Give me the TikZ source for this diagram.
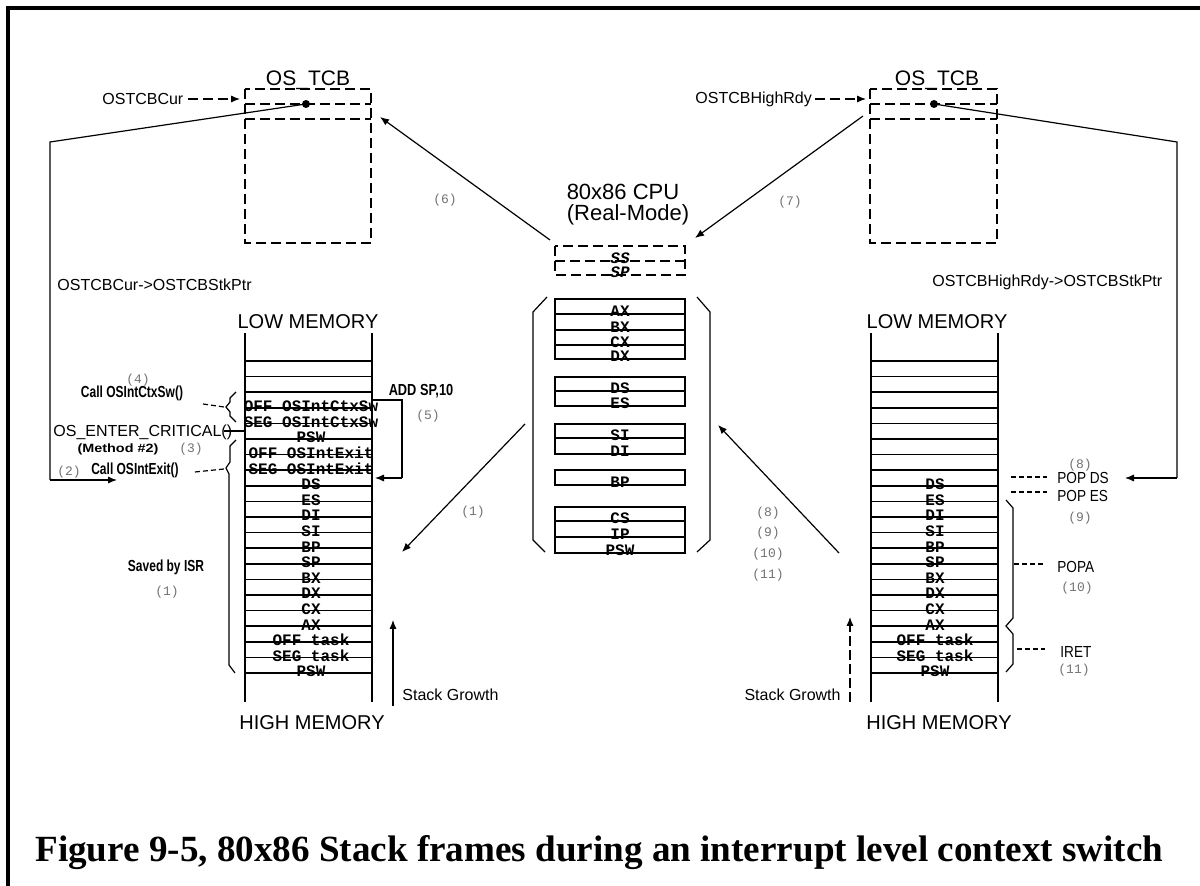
\documentclass[tikz,border=0pt]{standalone}
\usepackage{fontspec}
\setmainfont{Liberation Sans}
\newfontfamily\monofont{Liberation Mono}
\newfontfamily\capfont{Liberation Serif}
\usetikzlibrary{arrows.meta}
\tikzset{
  lbl/.style={inner sep=0pt, font=\fontsize{8}{9}\selectfont},
  big/.style={inner sep=0pt, font=\fontsize{10}{12}\selectfont},
  ttl/.style={inner sep=0pt, font=\fontsize{10.5}{12}\selectfont},
  cpu/.style={inner sep=0pt, font=\fontsize{11}{13}\selectfont},
  num/.style={inner sep=0pt, text=black!55, font=\monofont\fontsize{6.5}{7}\selectfont},
  cell/.style={inner sep=0pt, font=\monofont\bfseries\fontsize{8}{8}\selectfont},
  nar/.style={inner sep=0pt, font=\bfseries\fontsize{8}{9}\selectfont},
  tcb/.style={line width=0.6pt, dash pattern=on 5pt off 2.5pt},
  stk/.style={line width=0.75pt},
  thk/.style={line width=1.3pt},
  arr/.style={-{Latex[length=4.5pt,width=3.6pt]}, line width=0.6pt},
  tick/.style={line width=0.6pt, dash pattern=on 2.5pt off 1.5pt},
  brc/.style={line width=0.6pt},
}
\begin{document}
\begin{tikzpicture}[x=0.5pt,y=-0.5pt]
\useasboundingbox (0,0) rectangle (1200,886);
\fill[white] (0,0) rectangle (1200,886);
\draw[line width=2pt] (8,900) -- (8,8) -- (1210,8);

% ---------- left TCB ----------
\draw[tcb] (245,89) rectangle (371,243);
\draw[tcb] (245,104) -- (371,104);
\draw[tcb] (245,119) -- (371,119);
\node[ttl, anchor=base] (ltcb) at (308,86) {OS\_TCB};
\node[lbl, anchor=west] (cur) at (102,99) {OSTCBCur};
\coordinate (curE) at (240,99);
\draw[arr, tcb] (cur.east) ++(4,0) -- (curE);
\fill (306,104) circle (2pt);
\coordinate (ldot) at (306,104);
\coordinate (lc1) at (50,142);
\coordinate (lc2) at (50,480);
\coordinate (lc3) at (117,480);
\draw[line width=0.6pt] (ldot) -- (lc1) -- (lc2);
\draw[arr] (lc2) -- (lc3);
\node[lbl, anchor=west] (curstk) at (57,285) {OSTCBCur->OSTCBStkPtr};

% ---------- right TCB ----------
\draw[tcb] (870,89) rectangle (997,243);
\draw[tcb] (870,104) -- (997,104);
\draw[tcb] (870,119) -- (997,119);
\node[ttl, anchor=base] (rtcb) at (937,86) {OS\_TCB};
\node[lbl, anchor=west] (hr) at (695,99) {OSTCBHighRdy};
\coordinate (hrE) at (866,99);
\draw[arr, tcb] (hr.east) ++(3,0) -- (hrE);
\fill (934,104) circle (2pt);
\coordinate (rdot) at (934,104);
\coordinate (rc1) at (1177,142);
\coordinate (rc2) at (1177,478);
\coordinate (rc3) at (1125,478);
\draw[line width=0.6pt] (rdot) -- (rc1) -- (rc2);
\draw[arr] (rc2) -- (rc3);
\node[lbl, anchor=west] (hrstk) at (932,282) {OSTCBHighRdy->OSTCBStkPtr};

% ---------- CPU ----------
\node[cpu] (cputitle) at (623,192) {80x86 CPU};
\node[cpu] (cpumode) at (628,215) {(Real-Mode)};
\draw[tcb] (555,246) rectangle (685,275);
\draw[tcb] (555,261) -- (685,261);
\node[cell, anchor=base, font=\monofont\bfseries\itshape\fontsize{8}{8}\selectfont] (ss) at (620,264) {SS};
\node[cell, anchor=base, font=\monofont\bfseries\itshape\fontsize{8}{8}\selectfont] (sp) at (620,278) {SP};

\draw[stk] (555,299) rectangle (685,359);
\draw[thk] (555,314) -- (685,314); \draw[thk] (555,330) -- (685,330); \draw[thk] (555,345) -- (685,345);
\draw[stk] (555,377) rectangle (685,406);
\draw[thk] (555,391) -- (685,391);
\draw[stk] (555,424) rectangle (685,454);
\draw[thk] (555,438) -- (685,438);
\draw[stk] (555,470) rectangle (685,485);
\draw[stk] (555,507) rectangle (685,553);
\draw[thk] (555,521) -- (685,521); \draw[thk] (555,537) -- (685,537);
\foreach \b/\t in {314/AX,330/BX,345/CX,359/DX,391/DS,406/ES,438/SI,454/DI,485/BP,521/CS,537/IP,553/PSW}
  \node[cell, anchor=base] at (620,{\b+3}) {\t};
\draw[brc] (547,297) -- (533,312) -- (533,540) -- (545,552);
\draw[brc] (697,297) -- (710,312) -- (710,540) -- (697,552);

% ---------- left stack ----------
\foreach \k in {0,...,20} \draw[stk] (245,{361+15.6*\k}) -- (372,{361+15.6*\k});
\draw[stk] (245,333) -- (245,702);
\draw[stk] (372,333) -- (372,702);
\foreach \k/\t in {2/OFF OSIntCtxSw,3/SEG OSIntCtxSw,4/PSW,5/OFF OSIntExit,6/SEG OSIntExit,7/DS,8/ES,9/DI,10/SI,11/BP,12/SP,13/BX,14/DX,15/CX,16/AX,17/OFF task,18/SEG task,19/PSW}
  \node[cell, anchor=base] at (311,{361+15.6*(\k+1)+4}) {\t};
\node[big] (llow) at (308,322) {LOW MEMORY};
\node[big] (lhigh) at (312,723) {HIGH MEMORY};

% ---------- right stack ----------
\foreach \k in {0,...,20} \draw[stk] (871,{361+15.6*\k}) -- (998,{361+15.6*\k});
\draw[stk] (871,333) -- (871,702);
\draw[stk] (998,333) -- (998,702);
\foreach \k/\t in {7/DS,8/ES,9/DI,10/SI,11/BP,12/SP,13/BX,14/DX,15/CX,16/AX,17/OFF task,18/SEG task,19/PSW}
  \node[cell, anchor=base] at (935,{361+15.6*(\k+1)+4}) {\t};
\node[big] (rlow) at (937,322) {LOW MEMORY};
\node[big] (rhigh) at (939,723) {HIGH MEMORY};

% ---------- diagonal arrows ----------
\coordinate (a6s) at (550,240); \coordinate (a6e) at (380,117);
\draw[arr] (a6s) -- (a6e);
\node[num] (n6) at (445,200) {(6)};
\coordinate (a7s) at (863,116); \coordinate (a7e) at (695,238);
\draw[arr] (a7s) -- (a7e);
\node[num] (n7) at (790,202) {(7)};
\coordinate (a1s) at (525,424); \coordinate (a1e) at (402,552);
\draw[arr] (a1s) -- (a1e);
\node[num] (n1) at (473,512) {(1)};
\coordinate (a8s) at (839,553); \coordinate (a8e) at (718,425);
\draw[arr] (a8s) -- (a8e);
\node[num] (n8a) at (768,513) {(8)};
\node[num] (n9a) at (768,533) {(9)};
\node[num] (n10a) at (768,554) {(10)};
\node[num] (n11a) at (768,575) {(11)};

% ---------- stack growth ----------
\coordinate (lg1) at (393,706); \coordinate (lg2) at (393,620);
\draw[arr] (lg1) -- (lg2);
\node[lbl, anchor=west] (lsg) at (402,695) {Stack Growth};
\coordinate (rg1) at (850,702); \coordinate (rg2) at (850,617);
\draw[arr, dash pattern=on 5pt off 2pt] (rg1) -- (rg2);
\node[lbl, anchor=east] (rsg) at (841,695) {Stack Growth};

% ---------- left annotations ----------
\node[num] (n4) at (138,380) {(4)};
\node[nar] (ctx) at (132,393) {\scalebox{0.75}[1]{Call OSIntCtxSw()}};
\draw[brc] (236,392) -- (230,398) -- (230,402) -- (226,407) -- (230,412) -- (230,416) -- (236,422);
\coordinate (t4a) at (203,404); \coordinate (t4b) at (224,407);
\draw[tick] (t4a) -- (t4b);
\node[lbl, anchor=west] (crit) at (53,432) {OS\_ENTER\_CRITICAL()};
\coordinate (c1) at (224,431); \coordinate (c2) at (245,431);
\draw[line width=0.6pt] (c1) -- (c2);
\node[nar, font=\bfseries\fontsize{6}{7}\selectfont] (meth) at (118,449) {\scalebox{1.2}[1]{(Method \#2)}};
\node[num] (n3) at (191,449) {(3)};
\node[num] (n2) at (69,472) {(2)};
\node[nar] (cexit) at (135,470) {\scalebox{0.75}[1]{Call OSIntExit()}};
\draw[brc] (236,440) -- (230,446) -- (230,462) -- (226,468) -- (229,474) -- (229,665) -- (235,673);
\coordinate (t2a) at (195,472); \coordinate (t2b) at (224,469);
\draw[tick] (t2a) -- (t2b);
\node[nar] (isr) at (166,567) {\scalebox{0.75}[1]{Saved by ISR}};
\node[num] (n1b) at (167,592) {(1)};
\node[nar] (addsp) at (421,391) {\scalebox{0.8}[1]{ADD SP,10}};
\node[num] (n5) at (428,416) {(5)};
\coordinate (ad1) at (372,400); \coordinate (ad2) at (402,400);
\coordinate (ad3) at (402,478); \coordinate (ad4) at (375,478);
\draw[line width=0.6pt] (ad1) -- (ad2) -- (ad3);
\draw[arr] (ad3) -- (ad4);

% ---------- right annotations ----------
\node[num] (n8b) at (1080,465) {(8)};
\coordinate (pd1) at (1011,477); \coordinate (pd2) at (1047,477);
\draw[tick] (pd1) -- (pd2);
\node[lbl, anchor=west] (popds) at (1057,478) {\scalebox{0.85}[1]{POP DS}};
\coordinate (pe1) at (1011,492); \coordinate (pe2) at (1047,492);
\draw[tick] (pe1) -- (pe2);
\node[lbl, anchor=west] (popes) at (1057,496) {\scalebox{0.85}[1]{POP ES}};
\node[num] (n9b) at (1080,518) {(9)};
\draw[brc] (1006,500) -- (1013,508) -- (1013,618) -- (1006,626) -- (1013,634) -- (1013,664) -- (1006,672);
\coordinate (pa1) at (1014,564); \coordinate (pa2) at (1043,564);
\draw[tick] (pa1) -- (pa2);
\node[lbl, anchor=west] (popa) at (1057,567) {\scalebox{0.85}[1]{POPA}};
\node[num] (n10b) at (1077,588) {(10)};
\coordinate (ir1) at (1017,649); \coordinate (ir2) at (1045,649);
\draw[tick] (ir1) -- (ir2);
\node[lbl, anchor=west] (iret) at (1060,652) {\scalebox{0.85}[1]{IRET}};
\node[num] (n11b) at (1074,670) {(11)};

% ---------- caption ----------
\node[anchor=base west, inner sep=0pt] (cap) at (35,862) {\resizebox{564pt}{13pt}{\capfont\bfseries Figure 9-5, 80x86 Stack frames during an interrupt level context switch}};
\end{tikzpicture}
\end{document}
